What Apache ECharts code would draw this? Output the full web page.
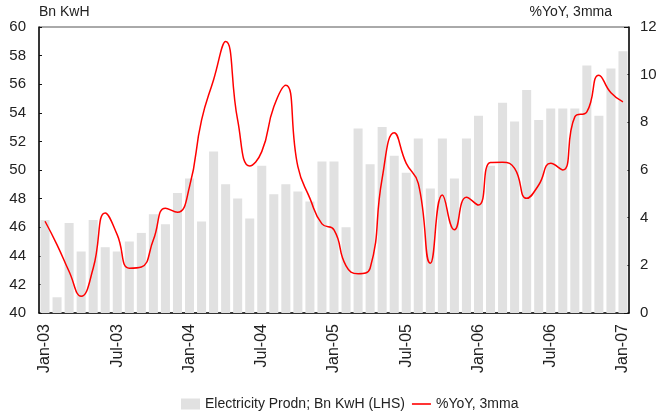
<!DOCTYPE html>
<html>
<head>
<meta charset="utf-8">
<script src="https://cdn.jsdelivr.net/npm/echarts@6/dist/echarts.min.js"></script>
<style>
html,body{margin:0;padding:0;background:#fff;}
#chart{width:662px;height:412px;}
</style>
</head>
<body>
<div id="chart"></div>
<script>
var monthNames = ['Jan','Feb','Mar','Apr','May','Jun','Jul','Aug','Sep','Oct','Nov','Dec'];
var years = ['03','04','05','06','07'];
var categories = [];
years.forEach(function (y) {
  monthNames.forEach(function (m) { categories.push(m + '-' + y); });
});
categories = categories.slice(0, 49);

var electricityProdn = [
  46.5, 41.1, 46.3, 44.3, 46.5, 44.6, 44.3, 45.0, 45.6, 46.9, 46.2, 48.4,
  49.4, 46.4, 51.3, 49.0, 48.0, 46.6, 50.3, 48.3, 49.0, 48.5, 47.8, 50.6,
  50.6, 46.0, 52.9, 50.4, 53.0, 51.0, 49.8, 52.2, 48.7, 52.2, 49.4, 52.2,
  53.8, 50.3, 54.7, 53.4, 55.6, 53.5, 54.3, 54.3, 54.3, 57.3, 53.8, 57.1,
  58.3
];
var yoy3mma = [
  3.85, 2.86, 1.74, 0.70, 1.88, 4.20, 3.28, 1.88, 1.93, 3.07, 4.40, 4.23,
  5.30, 8.09, 9.79, 11.39, 8.09, 6.17, 6.77, 8.65, 9.56, 6.14, 4.81, 3.74,
  3.49, 1.98, 1.65, 1.88, 5.65, 7.56, 6.28, 5.44, 2.09, 4.95, 3.49, 4.86,
  4.53, 6.31, 6.32, 6.07, 4.81, 5.37, 6.28, 6.00, 8.23, 8.44, 9.98, 9.24,
  8.86
];

var FONT = '"Liberation Sans", Arial, sans-serif';
var chart = echarts.init(document.getElementById('chart'), null, {renderer: 'canvas'});
chart.setOption({
  animation: false,
  textStyle: {fontFamily: FONT, color: '#222'},
  grid: {left: 39, right: 33, top: 27, bottom: 99, show: true, borderColor: '#555', borderWidth: 1},
  legend: {
    top: 392, left: 176, itemGap: 7, itemWidth: 19, itemHeight: 11,
    textStyle: {fontFamily: FONT, fontSize: 14, color: '#222'},
    data: [
      {name: 'Electricity Prodn; Bn KwH (LHS)', icon: 'rect'},
      {name: '%YoY, 3mma', icon: 'path://M0,0 L19,0 L19,1.6 L0,1.6 Z'}
    ]
  },
  xAxis: {
    type: 'category', data: categories, boundaryGap: true,
    axisLine: {lineStyle: {color: '#111', width: 1.5}},
    axisTick: {show: false},
    axisLabel: {interval: 5, rotate: 90, margin: 11, fontSize: 16, color: '#222', fontFamily: FONT}
  },
  yAxis: [
    {
      type: 'value', min: 40, max: 60, interval: 2, position: 'left',
      name: 'Bn KwH', nameLocation: 'end', nameGap: 8,
      nameTextStyle: {align: 'left', fontSize: 14, color: '#222', fontFamily: FONT},
      axisLine: {show: true, lineStyle: {color: '#111', width: 1.5}},
      axisTick: {show: true, inside: true, length: 3, lineStyle: {color: '#111'}},
      splitLine: {show: false},
      axisLabel: {fontSize: 15, margin: 13, color: '#222', fontFamily: FONT}
    },
    {
      type: 'value', min: 0, max: 12, interval: 2, position: 'right',
      name: '%YoY, 3mma', nameLocation: 'end', nameGap: 8,
      nameTextStyle: {align: 'right', padding: [0, 17, 0, 0], fontSize: 14, color: '#222', fontFamily: FONT},
      axisLine: {show: true, lineStyle: {color: '#111', width: 1.5}},
      axisTick: {show: true, inside: true, length: 5, lineStyle: {color: '#111'}},
      splitLine: {show: false},
      axisLabel: {fontSize: 15, margin: 11, color: '#222', fontFamily: FONT}
    }
  ],
  series: [
    {
      name: 'Electricity Prodn; Bn KwH (LHS)', type: 'bar', yAxisIndex: 0,
      data: electricityProdn, barCategoryGap: '25%',
      itemStyle: {color: '#e1e1e1'}
    },
    {
      name: '%YoY, 3mma', type: 'line', yAxisIndex: 1,
      data: yoy3mma, smooth: 0.5, symbol: 'none',
      lineStyle: {color: '#ff0000', width: 1.5},
      itemStyle: {color: '#ff0000'}
    }
  ]
});
</script>
</body>
</html>
